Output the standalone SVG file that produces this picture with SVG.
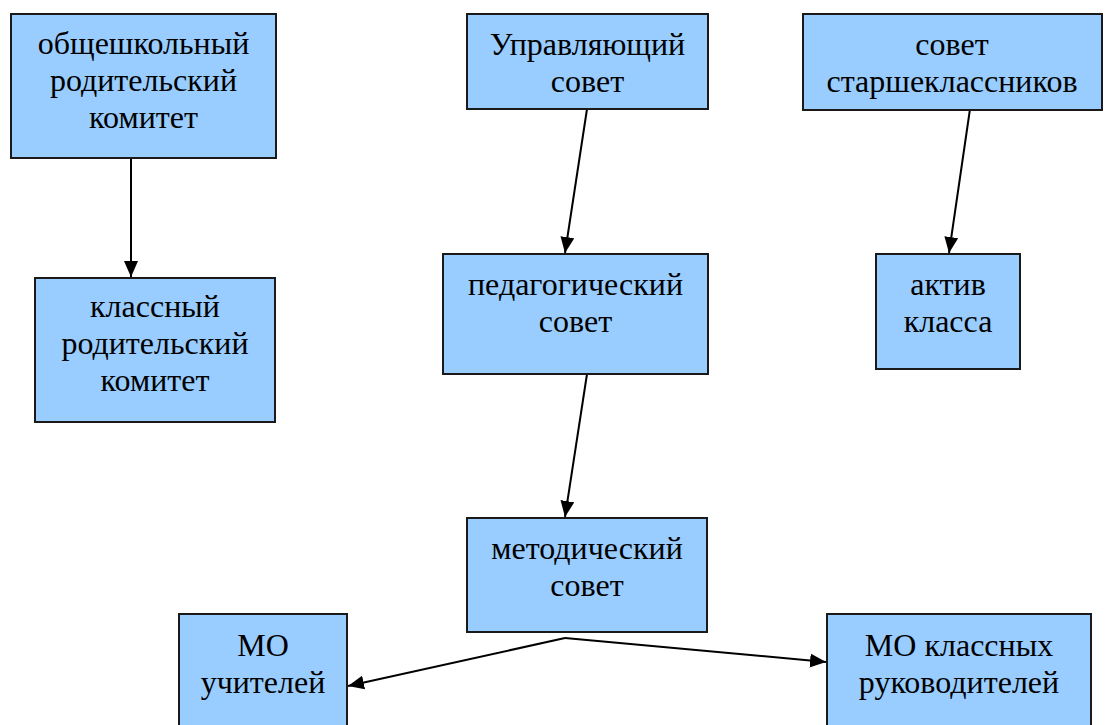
<svg xmlns="http://www.w3.org/2000/svg" width="1106" height="725" viewBox="0 0 1106 725">
<style>
.box{fill:#99ccff;stroke:#1a1a1a;stroke-width:2}
.t{font-family:"Liberation Serif","Times New Roman",serif;font-size:32px;fill:#000;text-anchor:middle}
.c{stroke:#000;stroke-width:2;fill:none;marker-end:url(#ah)}
</style>
<defs>
<marker id="ah" markerUnits="userSpaceOnUse" markerWidth="18" markerHeight="14" refX="16" refY="7" orient="auto" viewBox="0 0 18 14">
<path d="M0,0 L16,7 L0,14 Z" fill="#000"/>
</marker>
</defs>
<rect width="1106" height="725" fill="#fff"/>
<g id="connectors">
<line class="c" x1="131" y1="158" x2="131" y2="277"/>
<line class="c" x1="587" y1="109" x2="565" y2="253"/>
<line class="c" x1="970" y1="109" x2="949" y2="253"/>
<line class="c" x1="587" y1="374" x2="565" y2="517"/>
<polyline class="c" points="565,638 348,686"/>
<polyline class="c" points="565,638 826,662"/>
</g>
<g id="n1"><rect class="box" x="11" y="14" width="265" height="144"/>
<text class="t" x="143.5" y="54">общешкольный</text><text class="t" x="143.5" y="91">родительский</text><text class="t" x="143.5" y="128">комитет</text></g>
<g id="n2"><rect class="box" x="35" y="278" width="240" height="144"/>
<text class="t" x="155" y="317">классный</text><text class="t" x="155" y="354">родительский</text><text class="t" x="155" y="391">комитет</text></g>
<g id="n3"><rect class="box" x="467" y="14" width="241" height="95"/>
<text class="t" x="587.5" y="55">Управляющий</text><text class="t" x="587.5" y="92">совет</text></g>
<g id="n4"><rect class="box" x="803" y="14" width="299" height="96"/>
<text class="t" x="952" y="55">совет</text><text class="t" x="952" y="92">старшеклассников</text></g>
<g id="n5"><rect class="box" x="443" y="254" width="265" height="120"/>
<text class="t" x="575.5" y="295">педагогический</text><text class="t" x="575.5" y="332">совет</text></g>
<g id="n6"><rect class="box" x="876" y="254" width="144" height="115"/>
<text class="t" x="948" y="295">актив</text><text class="t" x="948" y="332">класса</text></g>
<g id="n7"><rect class="box" x="467" y="518" width="240" height="114"/>
<text class="t" x="587" y="559">методический</text><text class="t" x="587" y="596">совет</text></g>
<g id="n8"><rect class="box" x="179" y="614" width="168" height="120"/>
<text class="t" x="263" y="656">МО</text><text class="t" x="263" y="693">учителей</text></g>
<g id="n9"><rect class="box" x="827" y="614" width="264" height="120"/>
<text class="t" x="959" y="656">МО классных</text><text class="t" x="959" y="693">руководителей</text></g>
</svg>
